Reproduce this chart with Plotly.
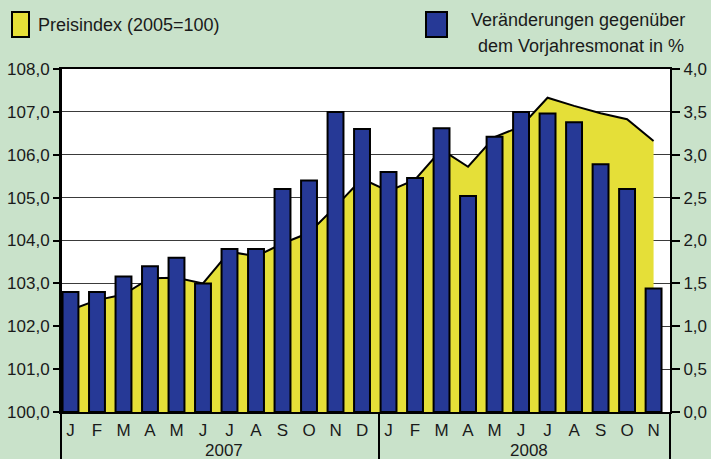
import plotly.graph_objects as go

# ---------------- data ----------------
months = ["J", "F", "M", "A", "M", "J", "J", "A", "S", "O", "N", "D",
          "J", "F", "M", "A", "M", "J", "J", "A", "S", "O", "N"]
years = ["2007", "2008"]
months_per_year = [12, 11]

preisindex = [102.38, 102.61, 102.74, 103.12, 103.13, 103.00, 103.74, 103.63,
              103.93, 104.18, 104.79, 105.44,
              105.15, 105.42, 106.12, 105.72, 106.41, 106.66, 107.33, 107.14,
              106.97, 106.83, 106.32]
veraenderung = [1.40, 1.40, 1.58, 1.70, 1.80, 1.50, 1.90, 1.90, 2.60, 2.70, 3.50, 3.30,
                2.80, 2.73, 3.31, 2.52, 3.21, 3.50, 3.48, 3.38, 2.89, 2.60, 1.44]

left_ticks = [100, 101, 102, 103, 104, 105, 106, 107, 108]
right_ticks = [0, 0.5, 1.0, 1.5, 2.0, 2.5, 3.0, 3.5, 4.0]

# ---------------- style ----------------
BG = "#C9E2CA"
YELLOW = "#E5DF38"
BLUE = "#263996"
FONT = "Liberation Sans, Arial, sans-serif"
W, H = 711, 459
L, R, T, B = 62, 41, 69, 47
PW, PH = W - L - R, H - T - B


def px(x):
    return (x - L) / PW


def py(y):
    return (H - B - y) / PH


x = list(range(len(months)))

fig = go.Figure()
fig.add_trace(go.Scatter(
    x=x, y=preisindex, mode="lines", fill="tozeroy",
    fillcolor=YELLOW, line=dict(color="black", width=2),
    yaxis="y", showlegend=False, hoverinfo="skip"))
fig.add_trace(go.Bar(
    x=x, y=veraenderung, width=0.6, marker=dict(color=BLUE, line=dict(color="black", width=2)),
    yaxis="y2", showlegend=False))

shapes = []
# separators below the x axis
for xp in [px(61), px(379), px(670)]:
    shapes.append(dict(type="line", xref="paper", yref="paper", x0=xp, x1=xp,
                       y0=0, y1=py(460), line=dict(color="black", width=2)))
# legend boxes
shapes.append(dict(type="rect", xref="paper", yref="paper", x0=px(12), x1=px(29),
                   y0=py(37), y1=py(12), fillcolor=YELLOW, line=dict(color="black", width=2)))
shapes.append(dict(type="rect", xref="paper", yref="paper", x0=px(426), x1=px(447),
                   y0=py(37), y1=py(12), fillcolor=BLUE, line=dict(color="black", width=2)))

annotations = [
    dict(xref="paper", yref="paper", x=px(36), y=py(25), text="Preisindex (2005=100)",
         showarrow=False, xanchor="left", yanchor="middle", font=dict(size=18, color="#1a1a1a")),
    dict(xref="paper", yref="paper", x=px(578), y=py(20), text="Veränderungen gegenüber",
         showarrow=False, xanchor="center", yanchor="middle", font=dict(size=18, color="#1a1a1a")),
    dict(xref="paper", yref="paper", x=px(581), y=py(46), text="dem Vorjahresmonat in %",
         showarrow=False, xanchor="center", yanchor="middle", font=dict(size=18, color="#1a1a1a")),
]
start = 0
for yr, n in zip(years, months_per_year):
    center = start + (n - 1) / 2 + 0.3
    annotations.append(dict(xref="x", yref="paper", x=center, y=py(450.5), text=yr,
                            showarrow=False, xanchor="center", yanchor="middle",
                            font=dict(size=17, color="#1a1a1a")))
    start += n

fig.update_layout(
    width=W, height=H, margin=dict(l=L, r=R, t=T, b=B, autoexpand=False),
    paper_bgcolor=BG, plot_bgcolor="white",
    font=dict(family=FONT, size=17, color="#1a1a1a"),
    separators=",.",
    bargap=0.4,
    shapes=shapes, annotations=annotations,
    xaxis=dict(range=[-0.32, 22.62], tickvals=x, ticktext=months, ticks="",
               showgrid=False, zeroline=False, showline=True, linecolor="black",
               linewidth=2, mirror=True, ticklabelstandoff=2, fixedrange=True,
               automargin=False),
    yaxis=dict(range=[100, 108], tickvals=left_ticks, tickformat=".1f",
               showgrid=True, gridcolor="#3a3a3a", gridwidth=1, zeroline=False,
               showline=True, linecolor="black", linewidth=3,
               ticks="outside", ticklen=6, tickwidth=2, tickcolor="black",
               automargin=False),
    yaxis2=dict(range=[0, 4], tickvals=right_ticks, tickformat=".1f", overlaying="y",
                side="right", showgrid=False, zeroline=False,
                showline=True, linecolor="black", linewidth=2,
                ticks="outside", ticklen=8, tickwidth=2, tickcolor="black",
                automargin=False),
)

fig.write_html("out.html", config={"displayModeBar": False},
               post_script="document.body.style.margin='0';document.body.style.overflow='hidden';")
